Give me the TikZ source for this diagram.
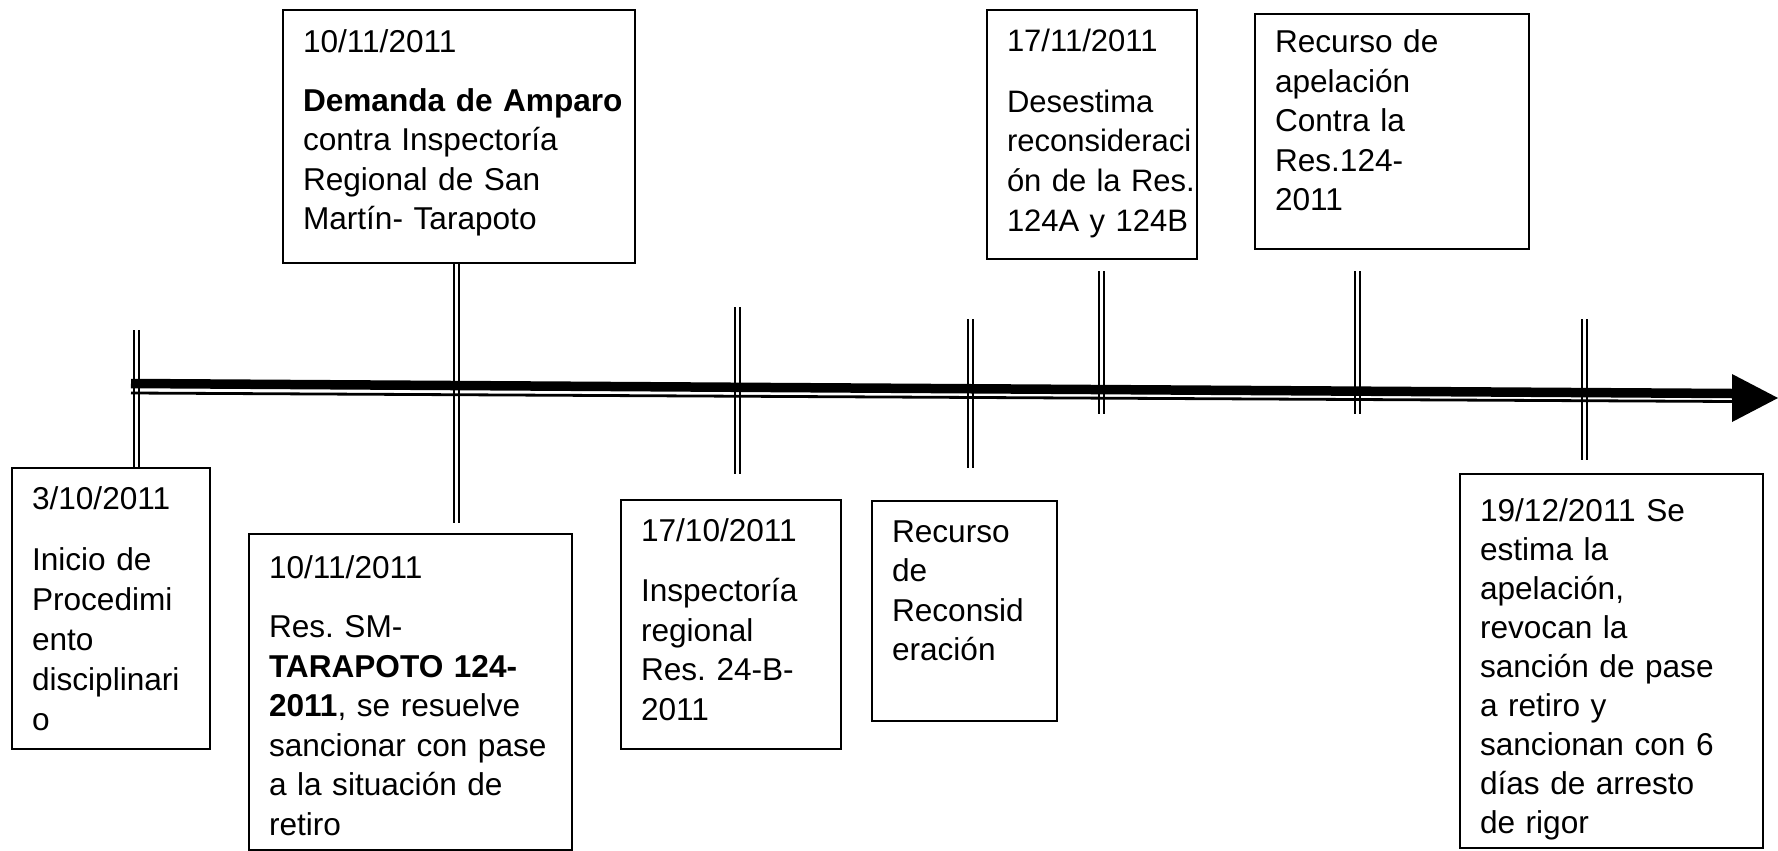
\documentclass[tikz,border=0pt]{standalone}
\usepackage{fontspec}
\setmainfont{Liberation Sans}
\usepackage{tikz}
\usetikzlibrary{positioning}
\usetikzlibrary{calc}
\newcommand{\evfont}{\fontsize{15.8pt}{19.75pt}\selectfont\frenchspacing\hyphenpenalty=10000 }
\tikzset{
    linea de tiempo/.style={
            x=0.5pt,y=-0.5pt,
            evento/.style={draw,line width=0.6pt,anchor=north west,align=left,
                inner xsep=0pt,inner ysep=0pt,outer sep=0pt,
                text height=20.5pt,font=\evfont,
                execute at begin node={\setlength{\leftskip}{10pt}}},
            marca/.style={double,double distance=1.5pt,line width=1pt},
            eje/.style={line width=4.75pt},
            ejefino/.style={line width=1.4pt}
        }
    }

\begin{document}
\begin{tikzpicture}[linea de tiempo]
                \useasboundingbox (0,0) rectangle (1778,851);
                % marcas
                \foreach \x/\ya/\yb in {136.5/330/468, 456.5/263/523, 737/307/474,
                        970/319/468, 1101/271/414, 1357/271/414, 1584/319/460}
                    \draw [marca] (\x,\ya) -- (\x,\yb);
                % eje
                \coordinate (e0) at (131,383.5);
                \coordinate (e1) at (1732,393.5);
                \coordinate (f0) at (131,393);
                \coordinate (f1) at (1732,401.5);
                \coordinate (punta) at (1778,398);
                \draw [eje] (e0) -- (e1);
                \draw [ejefino] (f0) -- (f1);
                \fill (1732,374) -- (punta) -- (1732,422) -- cycle;
                % eventos
                \node (b1) [evento, text width=99pt, text depth=120pt,
                    font={\fontsize{15.8pt}{20pt}\selectfont}] at (12,468)
                    {3/10/2011\\[10.5pt] Inicio de\\ Procedimi\\ ento\\ disciplinari\\ o};
                \node (bA) [evento, text width=176pt, text height=21.5pt, text depth=105pt] at (283,10)
                    {10/11/2011\\[9.5pt] \textbf{Demanda de Amparo}\\ contra Inspectoría\\
                     Regional de San\\ Martín- Tarapoto};
                \node (bB) [evento, text width=161.5pt, text height=22pt, text depth=136pt] at (249,534)
                    {10/11/2011\\[10pt] Res. SM-\\ \textbf{TARAPOTO 124-}\\
                     \textbf{2011}, se resuelve\\ sancionar con pase\\ a la situación de\\ retiro};
                \node (b3) [evento, text width=110pt, text depth=104pt] at (621,500)
                    {17/10/2011\\[10.5pt] Inspectoría\\ regional\\ Res. 24-B-\\ 2011};
                \node (b4) [evento, text width=92.5pt, text depth=89.5pt] at (872,501)
                    {Recurso\\ de\\ Reconsid\\ eración};
                \node (b5) [evento, text width=105pt, text depth=104pt,
                    font={\fontsize{15.5pt}{19.75pt}\selectfont}] at (987,10)
                    {17/11/2011\\[11pt] Desestima\\ reconsideraci\\ ón~de~la~Res.\\ 124A~y~124B};
                \node (b6) [evento, text width=137pt, text height=19.5pt, text depth=98pt] at (1255,14)
                    {Recurso de\\ apelación\\ Contra la\\ Res.124-\\ 2011};
                \node (b7) [evento, text width=151.5pt, text height=23.5pt, text depth=163.5pt,
                    font={\fontsize{15.8pt}{19.5pt}\selectfont}] at (1460,474)
                    {19/12/2011 Se\\ estima la\\ apelación,\\ revocan la\\ sanción de pase\\
                     a retiro y\\ sancionan con 6\\ días de arresto\\ de rigor};
            \end{tikzpicture}
\end{document}
